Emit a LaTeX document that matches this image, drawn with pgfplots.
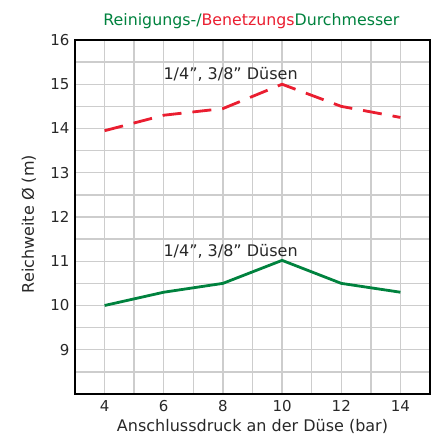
\documentclass[border=0pt]{standalone}
\usepackage{pgfplots}
\pgfplotsset{compat=1.18}
\usepackage{fontspec}
\setmainfont{DejaVu Sans}
\definecolor{lgreen}{RGB}{0,130,62}
\definecolor{lred}{RGB}{234,30,48}
\definecolor{gridgray}{RGB}{205,205,205}
\definecolor{txt}{RGB}{40,40,40}
\begin{document}
\begin{tikzpicture}
\useasboundingbox (-75pt,-41pt) rectangle (359pt,394pt);
\begin{axis}[
  at={(0,0)}, anchor=south west,
  scale only axis,
  width=355pt, height=354pt,
  xmin=3, xmax=15, ymin=8, ymax=16,
  xtick={4,6,8,10,12,14},
  minor xtick={3,5,7,9,11,13,15},
  ytick={9,10,11,12,13,14,15,16},
  minor ytick={8.5,9.5,10.5,11.5,12.5,13.5,14.5,15.5},
  grid=both,
  major grid style={gridgray, line width=1.4pt},
  minor grid style={gridgray, line width=1.4pt},
  tick style={draw=none},
  axis line style={black, line width=1.2pt},
  /pgf/number format/assume math mode=true,
  ticklabel style={font=\fontsize{15}{17}\selectfont, text=txt},
  xticklabel style={yshift=-3pt},
  yticklabel style={xshift=-2pt},
  label style={font=\fontsize{16}{18}\selectfont, text=txt},
  xlabel={Anschlussdruck an der Düse (bar)},
  ylabel={Reichweite Ø (m)},
  xlabel style={at={(axis description cs:0.5,-0.091)}, anchor=center},
  ylabel style={at={(axis description cs:-0.13,0.48)}, anchor=center, rotate=0},
  title={\textcolor{lgreen}{Reinigungs-/}\textcolor{lred}{Benetzungs}\textcolor{lgreen}{Durchmesser}},
  title style={font=\fontsize{15.8}{18}\selectfont, at={(axis description cs:0.497,1.036)}, anchor=center},
]
\addplot[lred, line width=2.8pt, dash pattern=on 19pt off 11pt] coordinates {
  (4,13.95) (6,14.3) (8,14.45) (10,15.0) (12,14.5) (14,14.25)};
\addplot[lgreen, line width=2.8pt] coordinates {
  (4,10.0) (6,10.3) (8,10.5) (10,11.02) (12,10.5) (14,10.3)};
\node[font=\fontsize{16}{18}\selectfont, text=txt] at (axis cs:8.26,15.22) {1/4”, 3/8” Düsen};
\node[font=\fontsize{16}{18}\selectfont, text=txt] at (axis cs:8.26,11.23) {1/4”, 3/8” Düsen};
\end{axis}
\end{tikzpicture}
\end{document}
